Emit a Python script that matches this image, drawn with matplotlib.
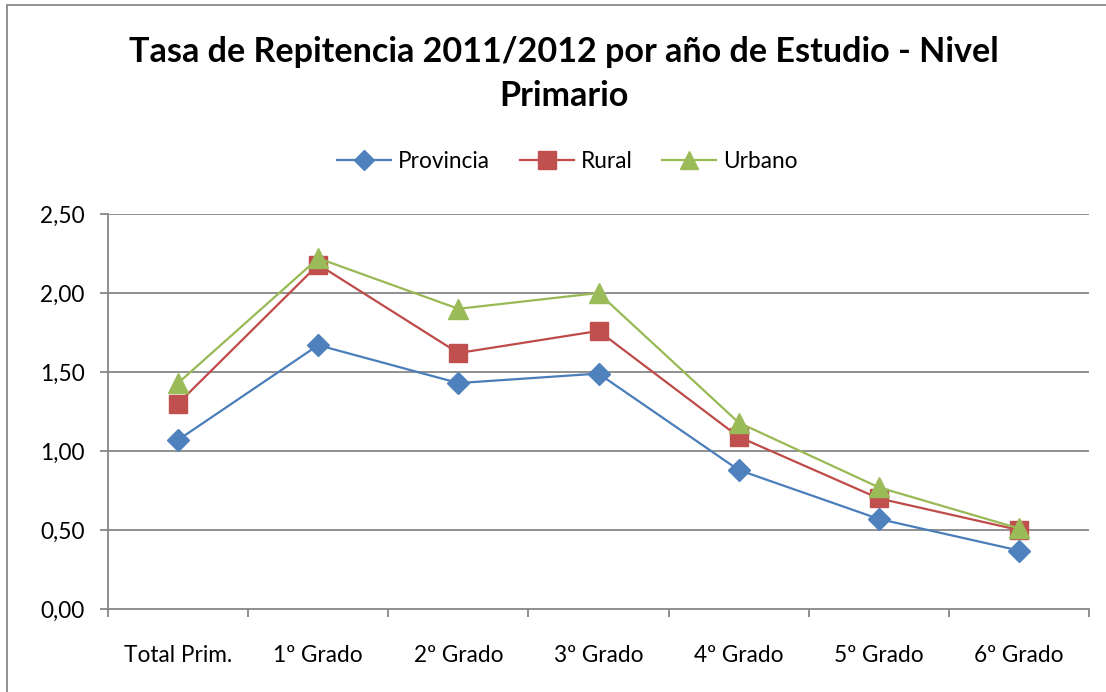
import matplotlib
matplotlib.use("Agg")
import matplotlib.pyplot as plt
from matplotlib.patches import Rectangle
import numpy as np

categories = ["Total Prim.", "1º Grado", "2º Grado", "3º Grado", "4º Grado", "5º Grado", "6º Grado"]
provincia = [1.07, 1.67, 1.43, 1.49, 0.88, 0.57, 0.37]
rural = [1.30, 2.18, 1.62, 1.76, 1.09, 0.70, 0.50]
urbano = [1.43, 2.22, 1.90, 2.00, 1.18, 0.77, 0.51]
yticks = [0.0, 0.5, 1.0, 1.5, 2.0, 2.5]
ytick_labels = ["0,00", "0,50", "1,00", "1,50", "2,00", "2,50"]
title = "Tasa de Repitencia 2011/2012 por año de Estudio - Nivel\nPrimario"

plt.rcParams['font.family'] = ['Lato', 'DejaVu Sans']

W, H = 1106, 692
fig = plt.figure(figsize=(W / 100, H / 100), dpi=100)
fig.patch.set_facecolor("white")

# chart border
fig.patches.append(Rectangle((7 / W, -0.02), 1.1, 1 - 5 / H + 0.02, transform=fig.transFigure,
                             fill=False, edgecolor="#888888", linewidth=1.3))

left, right, bottom, top = 108 / W, 1089 / W, 1 - 609 / H, 1 - 214 / H
ax = fig.add_axes([left, bottom, right - left, top - bottom])

x = np.arange(len(categories))
gridc = "#878787"
for yv in yticks[1:]:
    ax.axhline(yv, color=gridc, linewidth=1.3, zorder=1)

l1, = ax.plot(x, provincia, color="#4A7EBB", linewidth=1.6, marker="D", markersize=11,
              markerfacecolor="#4F81BD", markeredgecolor="#4F81BD", label="Provincia", zorder=3)
l2, = ax.plot(x, rural, color="#BE4B48", linewidth=1.6, marker="s", markersize=13,
              markerfacecolor="#C0504D", markeredgecolor="#C0504D", label="Rural", zorder=3)
l3, = ax.plot(x, urbano, color="#98B954", linewidth=1.6, marker="^", markersize=14,
              markerfacecolor="#9BBB59", markeredgecolor="#9BBB59", label="Urbano", zorder=3)

ax.set_xlim(-0.5, len(categories) - 0.5)
ax.set_ylim(0, 2.5)

for s in ["top", "right"]:
    ax.spines[s].set_visible(False)
for s in ["left", "bottom"]:
    ax.spines[s].set_color(gridc)
    ax.spines[s].set_linewidth(1.3)

ax.set_yticks(yticks)
ax.set_yticklabels(ytick_labels)
ax.set_xticks(np.arange(len(categories) + 1) - 0.5)
ax.set_xticklabels([""] * (len(categories) + 1))
ax.set_xticks(x, minor=True)
ax.set_xticklabels(categories, minor=True)
ax.tick_params(axis="x", which="major", length=6, width=1.3, color=gridc)
ax.tick_params(axis="x", which="minor", length=0, pad=26, labelsize=16.3)
ax.tick_params(axis="y", length=6, width=1.3, color=gridc, pad=11, labelsize=16.3)

fig.text(0.51, 1 - 74 / H, title, ha="center", va="center", fontsize=24.6,
         fontweight="bold", linespacing=1.45)

fig.legend(handles=[l1, l2, l3], loc="center", bbox_to_anchor=(0.513, 1 - 161 / H), ncol=3,
           frameon=False, fontsize=16.3, handlelength=2.4, handletextpad=0.3,
           columnspacing=1.3, markerscale=0.95)

fig.savefig("out.png", dpi=100)
